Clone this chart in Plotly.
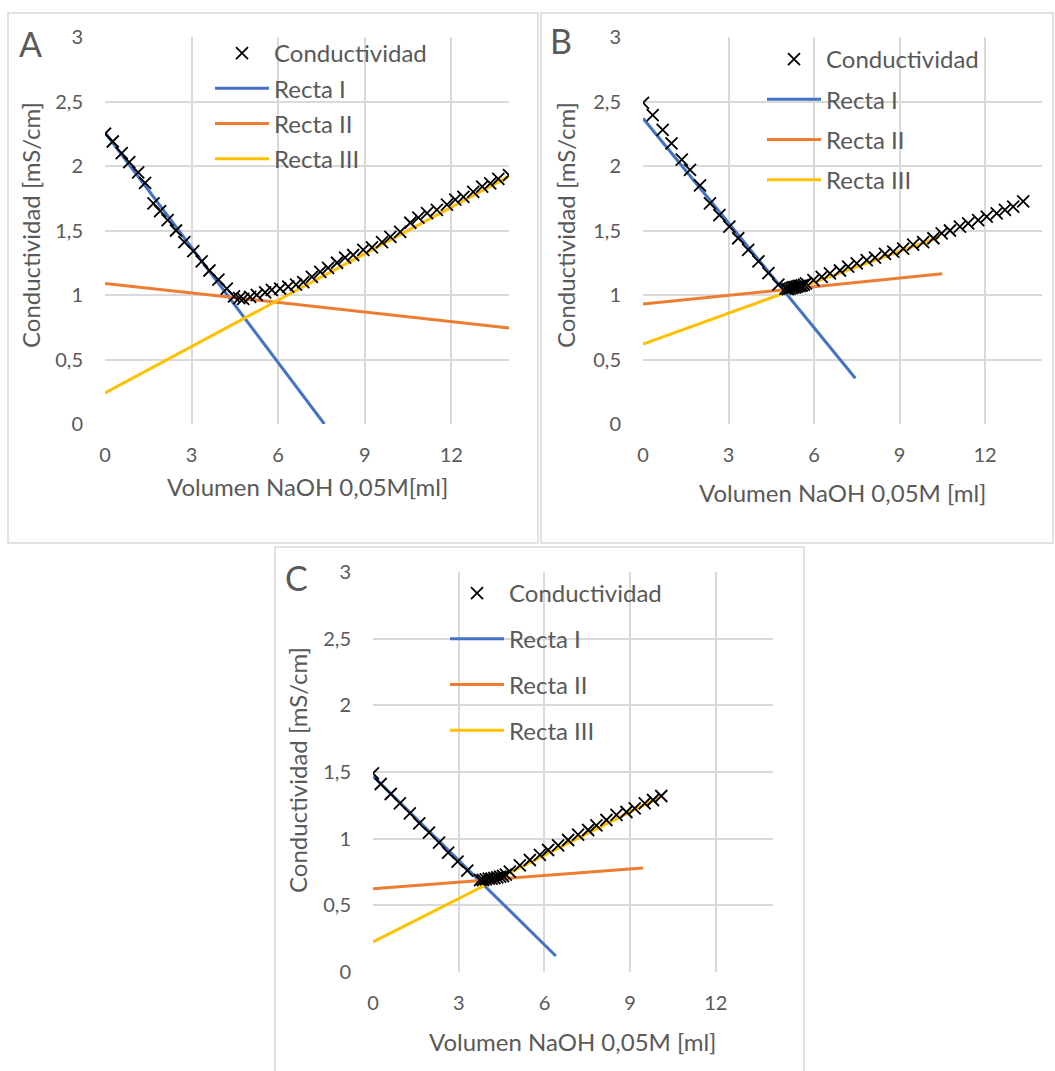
import plotly.graph_objects as go

W, H = 1055, 1071

# ---------------- data ----------------
# Panel A
a_x = [0, 0.27, 0.58, 0.84, 1.15, 1.39, 1.68, 1.91, 2.17, 2.46, 2.75, 3.06, 3.35, 3.62, 3.93, 4.22, 4.47,
       4.65, 4.79, 5.03, 5.26, 5.55, 5.78, 6.07, 6.35, 6.62, 6.87,
       7.17, 7.46, 7.73, 8.04, 8.32, 8.6, 8.95, 9.25, 9.6, 9.89, 10.23, 10.58, 10.86, 11.16, 11.5,
       11.85, 12.14, 12.42, 12.76, 13.07, 13.35, 13.63, 14.0]
a_y = [2.25, 2.19, 2.10, 2.03, 1.95, 1.87, 1.71, 1.65, 1.58, 1.50, 1.41, 1.34, 1.26, 1.19, 1.12, 1.05, 0.99,
       0.975, 0.97, 0.985, 1.0, 1.02, 1.04, 1.05, 1.065, 1.08, 1.10,
       1.14, 1.18, 1.21, 1.25, 1.29, 1.31, 1.35, 1.37, 1.41, 1.45, 1.49, 1.56, 1.60, 1.635, 1.66,
       1.70, 1.74, 1.76, 1.80, 1.84, 1.865, 1.90, 1.93]
a_r1_x, a_r1_y = [0, 7.6], [2.26, 0.0]
a_r2_x, a_r2_y = [0, 14], [1.09, 0.745]
a_r3_x, a_r3_y = [0, 14], [0.24, 1.92]

# Panel B
b_x = [0, 0.34, 0.69, 1.0, 1.36, 1.65, 2.0, 2.35, 2.68, 3.03, 3.34, 3.69, 4.05, 4.4, 4.75,
       5.0, 5.08, 5.15, 5.22, 5.28, 5.34, 5.4, 5.46, 5.52, 5.58, 5.65, 5.72,
       5.98, 6.27, 6.56, 6.91, 7.2, 7.5, 7.85, 8.14, 8.49, 8.78, 9.13, 9.48, 9.83, 10.19, 10.48,
       10.77, 11.12, 11.41, 11.76, 12.06, 12.41, 12.7, 12.99, 13.34]
b_y = [2.49, 2.395, 2.28, 2.175, 2.05, 1.97, 1.85, 1.71, 1.62, 1.53, 1.44, 1.35, 1.26, 1.17, 1.08,
       1.05, 1.045, 1.05, 1.055, 1.06, 1.06, 1.065, 1.07, 1.07, 1.075, 1.08, 1.09,
       1.116, 1.14, 1.168, 1.19, 1.22, 1.245, 1.27, 1.29, 1.318, 1.336, 1.36, 1.39, 1.41, 1.44, 1.478,
       1.50, 1.53, 1.556, 1.58, 1.607, 1.633, 1.66, 1.685, 1.725]
b_r1_x, b_r1_y = [0, 7.45], [2.37, 0.355]
b_r2_x, b_r2_y = [0, 10.5], [0.93, 1.165]
b_r3_x, b_r3_y = [0, 10.4], [0.62, 1.45]

# Panel C
c_x = [0, 0.27, 0.62, 0.94, 1.29, 1.62, 1.96, 2.31, 2.63, 2.96, 3.3,
       3.75, 3.85, 3.95, 4.05, 4.15, 4.25, 4.35, 4.45, 4.55, 4.65,
       4.79, 5.14, 5.49, 5.84, 6.13, 6.48, 6.83, 7.18, 7.53, 7.82, 8.17, 8.52, 8.87, 9.16, 9.51, 9.8, 10.09]
c_y = [1.49, 1.41, 1.335, 1.265, 1.19, 1.115, 1.045, 0.97, 0.895, 0.827, 0.76,
       0.69, 0.69, 0.695, 0.70, 0.70, 0.705, 0.71, 0.715, 0.72, 0.73,
       0.752, 0.80, 0.84, 0.878, 0.915, 0.95, 0.99, 1.03, 1.065, 1.10, 1.14, 1.178, 1.20, 1.228, 1.265, 1.29, 1.32]
c_r1_x, c_r1_y = [0, 6.4], [1.47, 0.12]
c_r2_x, c_r2_y = [0, 9.45], [0.625, 0.78]
c_r3_x, c_r3_y = [0, 10.0], [0.225, 1.31]

x_ticks = [0, 3, 6, 9, 12]
x_tick_labels = ["0", "3", "6", "9", "12"]
y_ticks = [0, 0.5, 1, 1.5, 2, 2.5, 3]
y_tick_labels = ["0", "0,5", "1", "1,5", "2", "2,5", "3"]

series_names = ["Conductividad", "Recta I", "Recta II", "Recta III"]
line_colors = ["#4472C4", "#ED7D31", "#FFC000"]

FONT = "Lato"
GRAY = "#595959"
GRID = "#d9d9d9"


def px(x):
    return x / W


def py(y):
    return 1 - y / H


panels = [
    dict(sx="", data=(a_x, a_y), lines=[(a_r1_x, a_r1_y), (a_r2_x, a_r2_y), (a_r3_x, a_r3_y)],
         dom_x=(105, 509), dom_y=(37, 424), legend="legend"),
    dict(sx="2", data=(b_x, b_y), lines=[(b_r1_x, b_r1_y), (b_r2_x, b_r2_y), (b_r3_x, b_r3_y)],
         dom_x=(643, 1042), dom_y=(37, 424), legend="legend2"),
    dict(sx="3", data=(c_x, c_y), lines=[(c_r1_x, c_r1_y), (c_r2_x, c_r2_y), (c_r3_x, c_r3_y)],
         dom_x=(373, 773), dom_y=(572, 972), legend="legend3"),
]

fig = go.Figure()
for p in panels:
    xa, ya = "x" + p["sx"], "y" + p["sx"]
    for i, (lx, ly) in enumerate(p["lines"]):
        fig.add_trace(go.Scatter(
            x=lx, y=ly, mode="lines", name=series_names[i + 1],
            line=dict(color=line_colors[i], width=3),
            xaxis=xa, yaxis=ya, legend=p["legend"],
            legendgroup=p["legend"] + str(i + 1), legendrank=i + 2))
    fig.add_trace(go.Scatter(
        x=p["data"][0], y=p["data"][1], mode="markers", name=series_names[0],
        marker=dict(symbol="x-thin", size=12, line=dict(color="black", width=1.8), color="black"),
        xaxis=xa, yaxis=ya, legend=p["legend"],
        legendgroup=p["legend"] + "0", legendrank=1))

axis_common = dict(showgrid=True, gridcolor=GRID, gridwidth=1.8, zeroline=False, showline=False,
                   ticks="", tickfont=dict(family=FONT, size=20, color=GRAY), fixedrange=True,
                   automargin=False)

layout = dict(
    width=W, height=H, margin=dict(l=0, r=0, t=0, b=0, autoexpand=False),
    paper_bgcolor="white", plot_bgcolor="white", showlegend=True,
    font=dict(family=FONT, color=GRAY),
)
for p in panels:
    key = p["sx"]
    layout["xaxis" + key] = dict(axis_common, domain=[px(p["dom_x"][0]), px(p["dom_x"][1])],
                                 range=[0, 14], tickvals=x_ticks, ticktext=x_tick_labels,
                                 anchor="y" + key, ticklabelstandoff=17)
    layout["yaxis" + key] = dict(axis_common, domain=[py(p["dom_y"][1]), py(p["dom_y"][0])],
                                 range=[0, 3], tickvals=y_ticks, ticktext=y_tick_labels,
                                 anchor="x" + key, ticklabelstandoff=21)

leg_font = dict(family=FONT, size=24, color=GRAY)
leg_common = dict(xanchor="left", yanchor="top", bgcolor="rgba(0,0,0,0)", font=leg_font,
                  traceorder="grouped", itemwidth=54)
layout["legend"] = dict(leg_common, x=px(210), y=py(31), tracegroupgap=1)
layout["legend2"] = dict(leg_common, x=px(762), y=py(37), tracegroupgap=6)
layout["legend3"] = dict(leg_common, x=px(445), y=py(571), tracegroupgap=11.5)

title_font = dict(family=FONT, size=24, color=GRAY)
annotations = [
    dict(text="Volumen NaOH 0,05M[ml]", x=px(307), y=py(487), font=title_font),
    dict(text="Conductividad [mS/cm]", x=px(30), y=py(225), textangle=-90, font=title_font),
    dict(text="Volumen NaOH 0,05M [ml]", x=px(842), y=py(493), font=title_font),
    dict(text="Conductividad [mS/cm]", x=px(565), y=py(225), textangle=-90, font=title_font),
    dict(text="Volumen NaOH 0,05M [ml]", x=px(573), y=py(1041), font=title_font),
    dict(text="Conductividad [mS/cm]", x=px(297), y=py(770), textangle=-90, font=title_font),
    dict(text="A", x=px(30), y=py(44), font=dict(family=FONT, size=34, color=GRAY)),
    dict(text="B", x=px(561), y=py(41), font=dict(family=FONT, size=34, color=GRAY)),
    dict(text="C", x=px(296), y=py(577), font=dict(family=FONT, size=34, color=GRAY)),
]
for a in annotations:
    a.update(xref="paper", yref="paper", showarrow=False, xanchor="center", yanchor="middle")
layout["annotations"] = annotations

frames = [(8, 13, 538, 543), (541, 13, 1053, 543), (275, 547, 804, 1075)]
layout["shapes"] = [dict(type="rect", xref="paper", yref="paper", x0=px(a), x1=px(c), y0=py(d), y1=py(b),
                         line=dict(color=GRID, width=1.5), fillcolor="rgba(0,0,0,0)", layer="below")
                    for (a, b, c, d) in frames]

fig.update_layout(layout)
fig.write_html("out.html")
